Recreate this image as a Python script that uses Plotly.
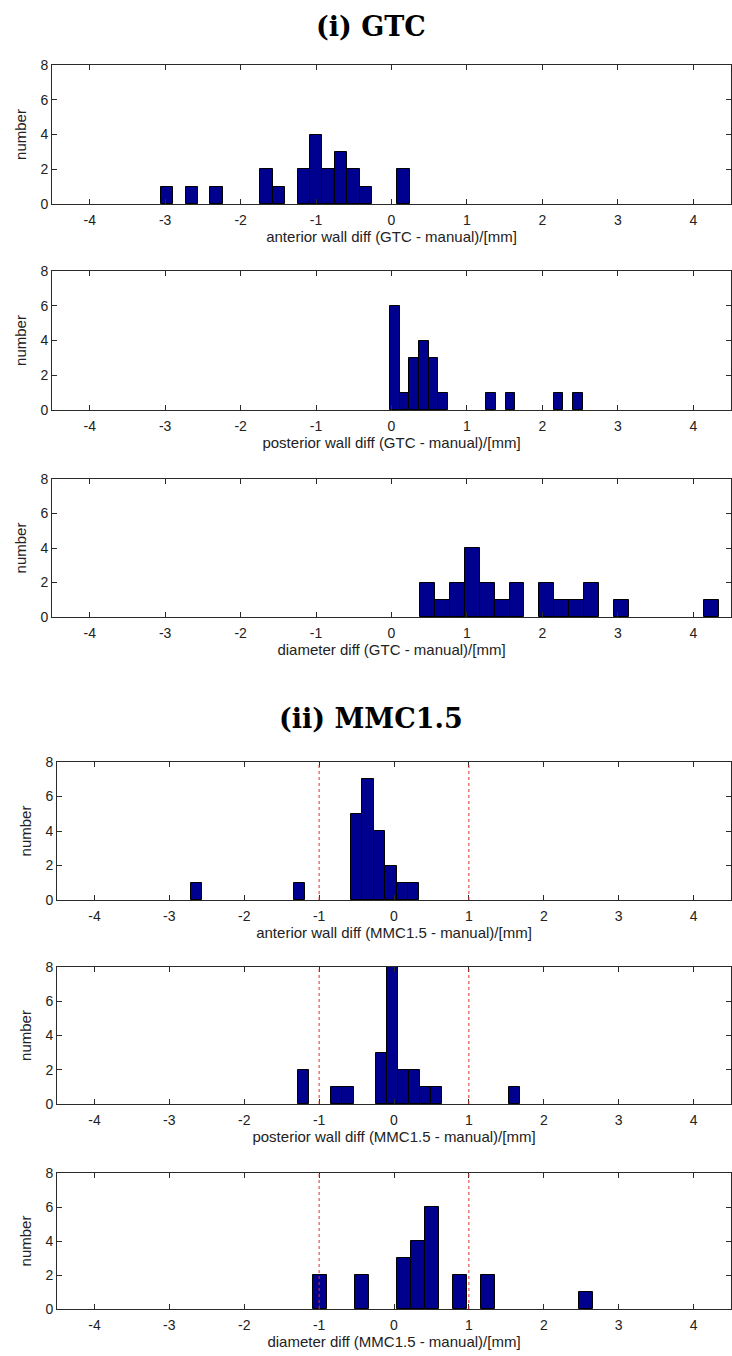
import numpy as np
import plotly.graph_objects as go

W, H = 732, 1356

# ---- data: 20 equal-width histogram bins between data min and max ----
gtc_ant_range = [-3.06, 0.24]
gtc_ant_counts = [1, 0, 1, 0, 1, 0, 0, 0, 2, 1, 0, 2, 4, 2, 3, 2, 1, 0, 0, 2]
gtc_post_range = [-0.017, 2.533]
gtc_post_counts = [6, 1, 3, 4, 3, 1, 0, 0, 0, 0, 1, 0, 1, 0, 0, 0, 0, 1, 0, 1]
gtc_diam_range = [0.376, 4.336]
gtc_diam_counts = [2, 1, 2, 4, 2, 1, 2, 0, 2, 1, 1, 2, 0, 1, 0, 0, 0, 0, 0, 1]
mmc_ant_range = [-2.71, 0.34]
mmc_ant_counts = [1, 0, 0, 0, 0, 0, 0, 0, 0, 1, 0, 0, 0, 0, 5, 7, 4, 2, 1, 1]
mmc_post_range = [-1.28, 1.68]
mmc_post_counts = [2, 0, 0, 1, 1, 0, 0, 3, 8, 2, 2, 1, 1, 0, 0, 0, 0, 0, 0, 1]
mmc_diam_range = [-1.08, 2.66]
mmc_diam_counts = [2, 0, 0, 2, 0, 0, 3, 4, 6, 0, 2, 0, 2, 0, 0, 0, 0, 0, 0, 1]

x_ticks = [-4, -3, -2, -1, 0, 1, 2, 3, 4]
x_tick_labels = ["-4", "-3", "-2", "-1", "0", "1", "2", "3", "4"]
y_ticks = [0, 2, 4, 6, 8]
y_tick_labels = ["0", "2", "4", "6", "8"]
ref_lines = [-1, 1]

x_labels = [
    "anterior wall diff (GTC - manual)/[mm]",
    "posterior wall diff (GTC - manual)/[mm]",
    "diameter diff (GTC - manual)/[mm]",
    "anterior wall diff (MMC1.5 - manual)/[mm]",
    "posterior wall diff (MMC1.5 - manual)/[mm]",
    "diameter diff (MMC1.5 - manual)/[mm]",
]
section_titles = ["<b>(i) GTC</b>", "<b>(ii) MMC1.5</b>"]

hists = [
    (gtc_ant_range, gtc_ant_counts),
    (gtc_post_range, gtc_post_counts),
    (gtc_diam_range, gtc_diam_counts),
    (mmc_ant_range, mmc_ant_counts),
    (mmc_post_range, mmc_post_counts),
    (mmc_diam_range, mmc_diam_counts),
]

# ---- layout geometry (pixels) ----
boxes = [  # left, right, top, bottom
    (52, 731, 65, 204),
    (52, 731, 271, 410),
    (52, 731, 479, 617),
    (57, 731, 762, 900),
    (57, 731, 967, 1104),
    (57, 731, 1173, 1309),
]
has_ref = [False, False, False, True, True, True]

AX = "#2a2a2a"
TXT = "#222"
FONT = "Liberation Sans, Arial, sans-serif"

fig = go.Figure()
layout = dict(
    width=W, height=H,
    margin=dict(l=0, r=0, t=0, b=0),
    paper_bgcolor="white", plot_bgcolor="white",
    showlegend=False, bargap=0,
    font=dict(family=FONT, size=14, color=TXT),
)
shapes = []
annotations = []

for i, ((rng, counts), (l, r, t, b)) in enumerate(zip(hists, boxes)):
    n = len(counts)
    lo, hi = rng
    w = (hi - lo) / n
    centers = lo + w * (np.arange(n) + 0.5)
    counts = np.array(counts)
    keep = counts > 0
    k = "" if i == 0 else str(i + 1)
    fig.add_trace(go.Bar(
        x=centers[keep], y=counts[keep], width=w,
        marker=dict(color="#00008F", line=dict(color="black", width=1)),
        xaxis="x" + k, yaxis="y" + k, hoverinfo="skip",
    ))
    layout["xaxis" + k] = dict(
        domain=[l / W, r / W], anchor="y" + k,
        range=[-4.5, 4.5], tickvals=x_ticks, ticktext=x_tick_labels,
        ticks="inside", ticklen=5, tickcolor=AX, tickwidth=1,
        showline=True, linecolor=AX, linewidth=1, mirror="ticks",
        showgrid=False, zeroline=False,
        ticklabelstandoff=3,
        tickfont=dict(size=14, color=TXT, family=FONT),
        title=dict(text=x_labels[i], font=dict(size=15, color=TXT, family=FONT), standoff=4),
        automargin=False,
    )
    layout["yaxis" + k] = dict(
        domain=[1 - b / H, 1 - t / H], anchor="x" + k,
        range=[0, 8], tickvals=y_ticks, ticktext=y_tick_labels,
        ticks="inside", ticklen=5, tickcolor=AX, tickwidth=1,
        showline=True, linecolor=AX, linewidth=1, mirror="ticks",
        showgrid=False, zeroline=False,
        tickfont=dict(size=14, color=TXT, family=FONT),
        title=dict(text="number", font=dict(size=15, color=TXT, family=FONT), standoff=10),
        automargin=False,
    )
    if has_ref[i]:
        for xv in ref_lines:
            shapes.append(dict(
                type="line", xref="x" + k, yref="y" + k,
                x0=xv, x1=xv, y0=0, y1=8,
                line=dict(color="#e03030", width=1, dash="dot"),
            ))

for txt, ypix in zip(section_titles, [27, 718]):
    annotations.append(dict(
        text=txt, xref="paper", yref="paper", x=371 / W, y=1 - ypix / H,
        xanchor="center", yanchor="middle", showarrow=False,
        font=dict(family="DejaVu Serif, serif", size=27, color="black"),
    ))

layout["shapes"] = shapes
layout["annotations"] = annotations
fig.update_layout(**layout)
fig.write_html("out.html")
